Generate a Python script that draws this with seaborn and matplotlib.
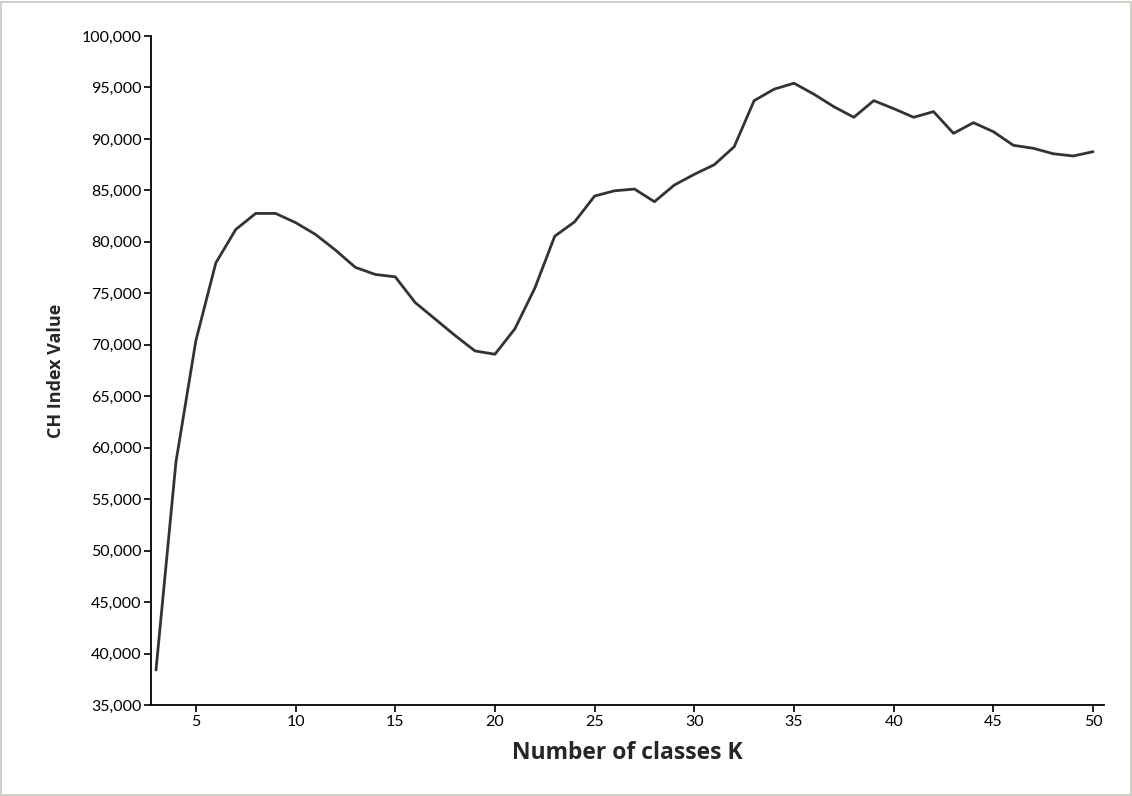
import numpy as np
import pandas as pd
import matplotlib
matplotlib.use("Agg")
import matplotlib.pyplot as plt
from matplotlib.ticker import FuncFormatter
from matplotlib.patches import Rectangle
import seaborn as sns

# Number of classes K and CH index values
k_values = list(range(3, 51))
ch_values = [
    38400, 58600, 70400, 77950, 81200, 82760, 82760, 81870, 80720, 79200,
    77520, 76830, 76600, 74100, 72500, 70900, 69400, 69080, 71550, 75500,
    80550, 81950, 84450, 84960, 85130, 83900, 85520, 86560, 87490, 89240,
    93720, 94830, 95410, 94340, 93130, 92100, 93720, 92940, 92100, 92650,
    90540, 91580, 90700, 89380, 89090, 88560, 88340, 88760,
]
y_ticks = list(range(35000, 100001, 5000))
x_ticks = list(range(5, 51, 5))

df = pd.DataFrame({"K": k_values, "CH": ch_values})

sns.set_style("ticks")
plt.rcParams["font.family"] = ["Lato", "DejaVu Sans"]

fig = plt.figure(figsize=(11.32, 7.96), dpi=100)
ax = fig.add_axes([0.1334, 0.1143, 0.8419, 0.8405])

sns.lineplot(data=df, x="K", y="CH", ax=ax, color="#333333", linewidth=2.0)

ax.set_xlim(2.75, 50.55)
ax.set_ylim(35000, 100000)
ax.set_xticks(x_ticks)
ax.set_yticks(y_ticks)
ax.yaxis.set_major_formatter(FuncFormatter(lambda v, p: f"{int(v):,}"))

for side in ["top", "right"]:
    ax.spines[side].set_visible(False)
for side in ["left", "bottom"]:
    ax.spines[side].set_color("black")
    ax.spines[side].set_linewidth(1.3)

ax.tick_params(axis="both", direction="out", length=5, width=1.2,
               color="black", labelsize=11.5, labelcolor="black", pad=2)

ax.set_xlabel("Number of classes K", fontsize=16.5, fontweight="bold",
              family=["Open Sans", "DejaVu Sans"], labelpad=9)
ax.set_ylabel("CH Index Value", fontsize=13, fontweight="bold",
              family=["Open Sans", "DejaVu Sans"], labelpad=12)

# thin grey frame round the whole picture
fig.patches.append(Rectangle((0.001, 0.001), 0.998, 0.997, transform=fig.transFigure,
                             fill=False, edgecolor="#c8c8c0", linewidth=1.2))

fig.savefig("out.png", dpi=100)
